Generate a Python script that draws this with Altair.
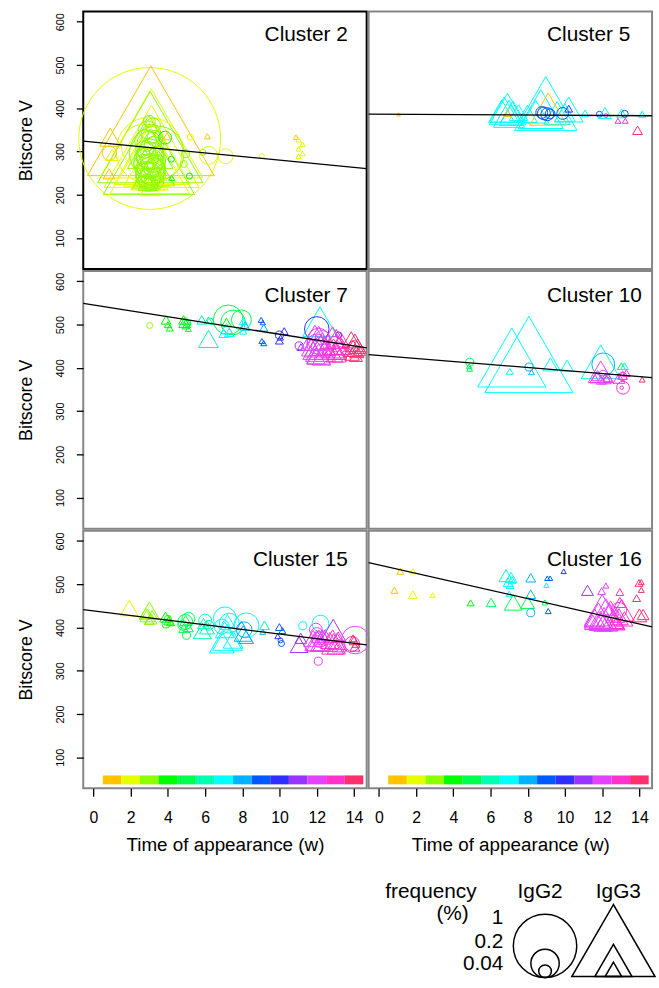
import altair as alt
import pandas as pd

FONT = "Liberation Sans, Arial, Helvetica, sans-serif"

# ---------------- data ----------------
weeks = list(range(1, 15))
week_colors = ["#FFC300", "#E5FF00", "#8CFF00", "#00FF00", "#00FF4D", "#00FFB2", "#00FFFF",
               "#00B2FF", "#0059FF", "#2E2EFF", "#9933FF", "#E640FF", "#FF33CC", "#FF2E6E"]

cluster_names = ["Cluster 2", "Cluster 5", "Cluster 7", "Cluster 10", "Cluster 15", "Cluster 16"]
# regression line per cluster: value at t = 0 and slope per week
line_intercept = [321.4, 386.1, 545.3, 428.6, 438.3, 544.7]
line_slope = [-4.16, -0.24, -6.76, -3.49, -5.36, -9.75]

x_ticks = [0, 2, 4, 6, 8, 10, 12, 14]
y_ticks = [100, 200, 300, 400, 500, 600]
legend_freq = [1, 0.2, 0.04]

# points: (time of appearance, bitscore V, frequency %, isotype 2/3, colour week)
c2_points = [
    (3.02, 330, 5.0, 2, 2), (3.08, 371, 2.32, 3, 1), (3.10, 342, 1.53, 3, 2),
    (3.05, 333, 1.60, 3, 3), (3.12, 312, 1.30, 3, 2), (2.98, 292, 1.20, 3, 3),
    (3.15, 300, 0.84, 3, 2), (3.02, 282, 0.90, 3, 2), (3.05, 306, 0.30, 3, 3),
    (3.00, 302, 1.10, 2, 2), (3.40, 296, 0.74, 2, 3), (2.70, 312, 0.49, 2, 2),
    (2.85, 265, 0.30, 3, 2), (3.25, 262, 0.25, 3, 3), (3.00, 248, 0.20, 3, 2),
    (2.80, 240, 0.10, 3, 3), (3.20, 236, 0.09, 3, 2), (3.05, 218, 0.06, 3, 2),
    (2.90, 228, 0.05, 3, 3),
    (0.90, 333, 0.063, 3, 1), (0.84, 248, 0.02, 3, 1), (1.00, 292, 0.024, 3, 2),
    (0.85, 296, 0.05, 2, 1),
    (3.00, 370, 0.035, 2, 3), (3.20, 360, 0.055, 2, 3), (2.90, 350, 0.079, 2, 3),
    (3.10, 340, 0.098, 2, 3), (3.30, 330, 0.063, 2, 3), (2.80, 325, 0.118, 2, 3),
    (3.00, 318, 0.153, 2, 3), (3.25, 312, 0.098, 2, 3), (2.75, 305, 0.079, 2, 3),
    (3.05, 300, 0.153, 2, 3), (3.40, 295, 0.055, 2, 3), (2.65, 290, 0.063, 2, 3),
    (2.90, 285, 0.118, 2, 3), (3.20, 280, 0.153, 2, 3), (3.50, 275, 0.048, 2, 3),
    (2.70, 270, 0.098, 2, 3), (3.00, 265, 0.153, 2, 3), (3.30, 260, 0.118, 2, 3),
    (2.60, 258, 0.048, 2, 3), (2.85, 252, 0.118, 2, 3), (3.15, 248, 0.14, 2, 3),
    (3.45, 245, 0.063, 2, 3), (2.75, 240, 0.079, 2, 3), (3.00, 236, 0.118, 2, 3),
    (3.25, 232, 0.098, 2, 3), (2.90, 226, 0.063, 2, 3), (3.10, 224, 0.048, 2, 3),
    (3.35, 262, 0.079, 2, 3), (3.05, 290, 0.19, 2, 3), (2.95, 275, 0.22, 2, 3),
    (3.10, 255, 0.19, 2, 3), (2.95, 245, 0.16, 2, 3), (3.15, 270, 0.12, 2, 3),
    (3.85, 332, 0.041, 2, 4), (3.95, 335, 0.009, 3, 1), (4.18, 282, 0.009, 2, 4),
    (5.16, 243, 0.009, 2, 4), (4.86, 271, 0.012, 2, 3), (4.20, 239, 0.005, 3, 4),
    (5.20, 333, 0.009, 2, 2), (5.87, 298, 0.009, 2, 3), (4.95, 295, 0.016, 2, 3),
    (6.18, 291, 0.079, 2, 2), (7.10, 289, 0.055, 2, 2), (6.12, 335, 0.005, 3, 1),
    (9.05, 289, 0.006, 2, 2), (10.88, 333, 0.004, 3, 1), (11.02, 327, 0.004, 3, 2),
    (11.23, 317, 0.004, 3, 2), (11.02, 306, 0.004, 3, 2), (11.23, 295, 0.004, 3, 2),
    (11.02, 289, 0.004, 3, 2),
]

c5_points = [
    (1.06, 386, 0.002, 3, 1), (6.91, 398, 0.19, 3, 7), (6.73, 397, 0.12, 3, 7),
    (6.99, 387, 0.14, 3, 7), (7.20, 392, 0.09, 3, 7), (6.60, 393, 0.10, 3, 7),
    (7.10, 384, 0.08, 3, 7), (7.50, 390, 0.05, 3, 7), (7.98, 387, 0.057, 3, 7),
    (6.91, 389, 0.009, 3, 1), (8.97, 411, 0.56, 3, 7), (8.70, 398, 0.29, 3, 7),
    (8.43, 392, 0.10, 3, 7), (9.58, 389, 0.10, 3, 7), (9.10, 398, 0.20, 3, 1),
    (10.20, 397, 0.12, 3, 7), (10.00, 390, 0.06, 3, 7), (8.87, 388, 0.041, 2, 9),
    (8.75, 390, 0.035, 2, 9), (9.05, 386, 0.041, 2, 9), (9.20, 387, 0.024, 2, 9),
    (9.88, 388, 0.035, 2, 9), (10.20, 399, 0.009, 3, 10), (11.08, 388, 0.009, 3, 7),
    (11.85, 386, 0.009, 2, 9), (12.15, 389, 0.024, 3, 7), (12.20, 383, 0.004, 2, 12),
    (13.04, 388, 0.014, 3, 7), (13.21, 387, 0.012, 2, 9), (12.85, 371, 0.005, 3, 13),
    (13.24, 371, 0.005, 3, 13), (13.90, 349, 0.014, 3, 14), (14.15, 386, 0.007, 3, 7),
]

c7_points = [
    (3.02, 498, 0.009, 2, 3), (3.90, 511, 0.014, 3, 4), (4.10, 492, 0.007, 3, 4),
    (4.00, 500, 0.007, 3, 4), (4.84, 511, 0.014, 3, 4), (5.00, 508, 0.009, 3, 5),
    (4.95, 497, 0.007, 3, 4), (5.10, 490, 0.005, 3, 5), (5.05, 503, 0.012, 2, 5),
    (4.90, 505, 0.02, 3, 4), (5.82, 511, 0.014, 3, 6), (6.18, 510, 0.009, 3, 6),
    (6.28, 508, 0.009, 2, 6), (6.18, 467, 0.057, 3, 6), (7.24, 511, 0.22, 2, 5),
    (7.95, 511, 0.098, 2, 5), (7.50, 505, 0.15, 2, 5), (7.15, 491, 0.02, 3, 7),
    (7.00, 480, 0.014, 3, 7), (7.30, 482, 0.014, 3, 7), (7.15, 505, 0.014, 3, 4),
    (8.05, 508, 0.009, 3, 7), (8.15, 497, 0.014, 3, 8), (8.05, 485, 0.007, 3, 7),
    (9.01, 511, 0.005, 3, 9), (9.10, 505, 0.004, 3, 9), (9.15, 457, 0.005, 3, 9),
    (9.05, 462, 0.005, 3, 9), (9.15, 493, 0.009, 3, 8), (9.99, 476, 0.016, 2, 10),
    (10.05, 470, 0.005, 3, 10), (10.25, 485, 0.009, 3, 10), (9.99, 463, 0.009, 3, 10),
    (11.05, 451, 0.016, 2, 11), (11.15, 448, 0.009, 3, 11),
    (12.17, 507, 0.17, 3, 7), (12.00, 490, 0.15, 2, 10),
    (11.90, 470, 0.12, 3, 12), (12.10, 462, 0.17, 3, 12), (12.30, 455, 0.10, 3, 12),
    (12.00, 450, 0.09, 3, 12), (12.20, 445, 0.13, 3, 12), (11.80, 440, 0.06, 3, 12),
    (12.40, 440, 0.06, 3, 12), (12.10, 432, 0.08, 3, 12), (11.95, 428, 0.05, 3, 12),
    (12.25, 425, 0.05, 3, 12), (12.60, 460, 0.04, 3, 12), (11.70, 455, 0.03, 3, 12),
    (12.10, 465, 0.13, 2, 12), (12.00, 455, 0.10, 2, 12), (12.20, 450, 0.08, 2, 12),
    (12.30, 470, 0.05, 2, 12), (13.18, 476, 0.009, 2, 10),
    (12.85, 470, 0.09, 3, 13), (13.05, 460, 0.12, 3, 13), (13.20, 450, 0.06, 3, 13),
    (12.90, 445, 0.07, 3, 13), (13.10, 438, 0.05, 3, 13), (13.30, 465, 0.04, 3, 13),
    (12.95, 430, 0.04, 3, 13), (13.20, 428, 0.03, 3, 13), (13.00, 455, 0.06, 2, 13),
    (13.15, 445, 0.04, 2, 13),
    (13.85, 465, 0.05, 3, 14), (14.05, 458, 0.06, 3, 14), (14.20, 450, 0.04, 3, 14),
    (13.95, 445, 0.05, 3, 14), (14.15, 438, 0.03, 3, 14), (13.90, 432, 0.03, 3, 14),
    (14.10, 428, 0.025, 3, 14), (14.30, 440, 0.02, 3, 14), (14.00, 450, 0.03, 2, 14),
]

c10_points = [
    (4.88, 413, 0.016, 2, 5), (4.88, 398, 0.005, 3, 5), (4.85, 404, 0.004, 3, 5),
    (7.14, 424, 0.67, 3, 7), (8.06, 431, 1.12, 3, 7), (7.04, 392, 0.007, 3, 7),
    (8.07, 402, 0.016, 2, 8), (8.20, 390, 0.005, 3, 8), (9.22, 408, 0.032, 3, 7),
    (10.11, 405, 0.024, 3, 7), (11.92, 414, 0.22, 3, 7), (12.06, 408, 0.13, 2, 8),
    (11.92, 391, 0.09, 3, 12), (11.60, 375, 0.014, 3, 12), (12.17, 375, 0.02, 3, 12),
    (11.95, 372, 0.014, 3, 12), (12.30, 378, 0.014, 3, 12), (11.75, 382, 0.02, 3, 12),
    (12.05, 385, 0.016, 2, 12), (12.25, 372, 0.009, 2, 12), (13.12, 354, 0.041, 2, 13),
    (13.05, 354, 0.003, 2, 13), (13.10, 380, 0.016, 2, 13), (13.03, 404, 0.009, 3, 5),
    (13.20, 404, 0.009, 3, 7), (13.10, 383, 0.014, 3, 12), (13.30, 388, 0.009, 3, 13),
    (12.90, 376, 0.02, 3, 13), (14.15, 373, 0.005, 3, 14),
]

c15_points = [
    (1.92, 445, 0.046, 3, 2), (3.00, 439, 0.057, 3, 3), (2.90, 428, 0.032, 3, 3),
    (3.10, 420, 0.02, 3, 3), (3.00, 417, 0.014, 3, 3), (2.80, 432, 0.02, 3, 3),
    (3.15, 430, 0.014, 3, 3), (3.87, 424, 0.02, 3, 4), (4.05, 416, 0.014, 3, 4),
    (4.15, 412, 0.009, 3, 4), (3.90, 408, 0.016, 2, 4), (4.00, 420, 0.012, 2, 4),
    (4.93, 413, 0.055, 2, 5), (5.10, 420, 0.041, 2, 5), (4.80, 405, 0.024, 2, 5),
    (5.00, 382, 0.016, 2, 5), (4.95, 416, 0.02, 3, 5), (4.85, 398, 0.014, 3, 5),
    (5.10, 400, 0.014, 3, 5), (5.91, 409, 0.02, 3, 6), (6.10, 400, 0.032, 3, 6),
    (5.85, 392, 0.046, 3, 6), (6.00, 416, 0.041, 2, 6), (6.20, 405, 0.024, 2, 6),
    (7.06, 421, 0.13, 2, 7), (7.30, 410, 0.098, 2, 7), (6.90, 402, 0.055, 2, 7),
    (7.20, 377, 0.128, 3, 7), (6.90, 366, 0.089, 3, 7), (7.50, 372, 0.057, 3, 7),
    (7.20, 415, 0.032, 3, 7), (7.05, 395, 0.05, 3, 7), (8.22, 405, 0.153, 2, 7),
    (8.04, 386, 0.046, 3, 8), (8.20, 378, 0.032, 3, 8), (7.95, 405, 0.014, 3, 8),
    (8.10, 395, 0.06, 2, 8), (9.19, 405, 0.014, 3, 6), (9.10, 390, 0.005, 3, 8),
    (9.99, 401, 0.009, 3, 9), (10.15, 393, 0.007, 3, 9), (10.10, 363, 0.009, 2, 9),
    (10.05, 370, 0.006, 2, 9), (9.90, 380, 0.005, 3, 10), (11.14, 375, 0.02, 3, 11),
    (11.05, 360, 0.046, 3, 11), (11.25, 404, 0.016, 2, 7), (12.20, 409, 0.07, 2, 7),
    (11.95, 395, 0.041, 2, 12), (11.80, 375, 0.05, 3, 12), (12.00, 370, 0.08, 3, 12),
    (12.20, 365, 0.06, 3, 12), (11.90, 362, 0.04, 3, 12), (12.10, 380, 0.03, 3, 12),
    (12.30, 378, 0.04, 3, 12), (12.45, 370, 0.09, 3, 12), (12.00, 385, 0.04, 2, 12),
    (12.15, 372, 0.06, 2, 12), (12.08, 322, 0.016, 2, 12), (12.88, 394, 0.089, 3, 11),
    (12.70, 370, 0.05, 3, 13), (12.90, 362, 0.08, 3, 13), (13.10, 368, 0.05, 3, 13),
    (13.00, 355, 0.04, 3, 13), (13.20, 358, 0.03, 3, 13), (12.85, 380, 0.03, 3, 13),
    (13.15, 378, 0.02, 3, 13), (14.07, 371, 0.19, 2, 12), (13.90, 362, 0.055, 2, 13),
    (14.00, 370, 0.014, 3, 14), (14.10, 362, 0.009, 3, 14), (13.95, 375, 0.009, 3, 14),
    (14.05, 355, 0.014, 3, 14),
]

c16_points = [
    (1.15, 530, 0.007, 3, 1), (0.83, 486, 0.007, 3, 1), (1.83, 530, 0.005, 3, 2),
    (1.83, 476, 0.011, 3, 2), (2.89, 475, 0.004, 3, 2), (4.93, 457, 0.007, 3, 4),
    (6.03, 458, 0.014, 3, 5), (7.22, 458, 0.046, 3, 5), (7.99, 458, 0.028, 3, 5),
    (6.83, 520, 0.028, 3, 7), (7.10, 516, 0.02, 3, 7), (6.95, 505, 0.014, 3, 7),
    (7.05, 498, 0.009, 3, 7), (7.15, 510, 0.009, 3, 7), (7.00, 478, 0.005, 3, 7),
    (8.16, 515, 0.014, 3, 8), (8.16, 477, 0.014, 3, 8), (8.16, 434, 0.016, 2, 8),
    (8.92, 458, 0.005, 3, 5), (9.05, 514, 0.004, 3, 9), (9.20, 514, 0.004, 3, 9),
    (9.10, 438, 0.005, 3, 9), (9.00, 498, 0.004, 3, 7), (9.93, 530, 0.004, 3, 10),
    (11.21, 486, 0.02, 3, 11), (11.97, 484, 0.009, 3, 12), (12.20, 497, 0.005, 3, 12),
    (12.00, 440, 0.19, 3, 12), (12.20, 432, 0.17, 3, 12), (11.80, 428, 0.12, 3, 12),
    (12.40, 425, 0.13, 3, 12), (12.10, 420, 0.10, 3, 12), (11.60, 422, 0.06, 3, 12),
    (12.60, 418, 0.08, 3, 12), (11.90, 415, 0.07, 3, 12), (12.30, 412, 0.06, 3, 12),
    (12.05, 410, 0.05, 3, 12), (11.50, 412, 0.04, 3, 12), (12.70, 430, 0.05, 3, 12),
    (12.45, 445, 0.04, 3, 12), (12.90, 440, 0.06, 2, 12),
    (12.95, 482, 0.009, 3, 13), (12.95, 458, 0.02, 3, 13), (13.05, 440, 0.089, 3, 13),
    (12.90, 425, 0.05, 3, 13), (13.20, 420, 0.04, 3, 13), (12.80, 412, 0.03, 3, 13),
    (13.98, 503, 0.009, 3, 14), (14.10, 487, 0.005, 3, 14), (13.85, 468, 0.009, 3, 14),
    (14.00, 428, 0.032, 3, 14), (14.10, 505, 0.005, 3, 14), (14.20, 430, 0.02, 3, 14),
]

all_points = [c2_points, c5_points, c7_points, c10_points, c15_points, c16_points]

# ---------------- chart ----------------
W, H = 286, 260
XDOM = [-0.55, 14.68]
YDOM = [28, 624]
SIZE_EXPR = "datum.freq * (datum.iso == 'IgG2' ? 4096 : 7056)"

xs = alt.Scale(domain=XDOM, nice=False, zero=False)
ys = alt.Scale(domain=YDOM, nice=False, zero=False)
cscale = alt.Scale(domain=weeks, range=week_colors)
shape_scale = alt.Scale(domain=["IgG2", "IgG3"], range=["circle", "triangle-up"])

x_axis = alt.Axis(values=x_ticks, title="Time of appearance (w)", tickSize=8, tickWidth=1.3,
                  tickColor="black", labelPadding=13, labelFontSize=16, labelFont=FONT,
                  labelColor="black", labelFlush=False, labelOverlap=False,
                  titleFont=FONT, titleFontSize=19, titleFontWeight="normal", titleColor="black",
                  titleY=57, titleBaseline="middle", domain=False, grid=False)
y_axis = alt.Axis(values=y_ticks, title="Bitscore V", tickSize=7, tickWidth=1.3, tickColor="black",
                  labelAngle=270, labelAlign="center", labelBaseline="middle", labelPadding=16,
                  labelFontSize=11, labelFont=FONT, labelColor="black", labelFlush=False,
                  labelOverlap=False, titleFont=FONT, titleFontSize=18, titleFontWeight="normal",
                  titleColor="black", titleAngle=270, titleX=-57, titleY=H / 2,
                  titleAlign="center", titleBaseline="middle", domain=False, grid=False)

label_x = {0: 267, 1: 180}
label_align = {0: "right", 1: "left"}
label_y = [30, 31, 36]


def panel(idx, legend=False):
    row, col = divmod(idx, 2)
    left = col == 0
    bottom = row == 2
    xa = x_axis if bottom else None
    ya = y_axis if left else None
    df = pd.DataFrame(all_points[idx], columns=["time", "score", "freq", "iso", "week"])
    df["iso"] = df["iso"].map({2: "IgG2", 3: "IgG3"})

    pts = alt.Chart(df).transform_calculate(sz=SIZE_EXPR).mark_point(
        filled=False, strokeWidth=1, opacity=1
    ).encode(
        x=alt.X("time:Q", scale=xs, axis=xa),
        y=alt.Y("score:Q", scale=ys, axis=ya),
        color=alt.Color("week:O", scale=cscale, legend=None),
        shape=alt.Shape("iso:N", scale=shape_scale, legend=None),
        size=alt.Size("sz:Q", scale=None),
    )

    ldf = pd.DataFrame({"time": XDOM})
    ldf["score"] = line_intercept[idx] + line_slope[idx] * ldf["time"]
    line = alt.Chart(ldf).mark_line(color="black", strokeWidth=1.3).encode(
        x=alt.X("time:Q", scale=xs, axis=xa),
        y=alt.Y("score:Q", scale=ys, axis=ya),
    )

    lab = alt.Chart(pd.DataFrame({"label": [cluster_names[idx]]})).mark_text(
        align=label_align[col], baseline="alphabetic", font=FONT, fontSize=21, color="black"
    ).encode(x=alt.value(label_x[col]), y=alt.value(label_y[row]), text="label:N")

    layers = []
    if bottom:
        cb = alt.Chart(pd.DataFrame({"week": weeks})).transform_calculate(
            lo="datum.week - 0.5", hi="datum.week + 0.5"
        ).mark_rect().encode(
            x=alt.X("lo:Q", scale=xs, axis=xa),
            x2="hi:Q",
            y=alt.value(247),
            y2=alt.value(256),
            color=alt.Color("week:O", scale=cscale, legend=None),
        )
        layers.append(cb)
    layers += [pts, line, lab]

    if legend:
        leg_df = pd.DataFrame({"freq": legend_freq * 2,
                               "iso": ["IgG2"] * len(legend_freq) + ["IgG3"] * len(legend_freq)})
        shapes = alt.Chart(leg_df).transform_calculate(
            sz=SIZE_EXPR,
            lx="datum.iso == 'IgG2' ? 178 : 247",
            ly="datum.iso == 'IgG2' ? 451 - sqrt(datum.sz) / 2 : 450 - 0.433 * sqrt(datum.sz)",
        ).mark_point(filled=False, strokeWidth=1.5, opacity=1, color="black").encode(
            x=alt.X("lx:Q", scale=None),
            y=alt.Y("ly:Q", scale=None),
            shape=alt.Shape("iso:N", scale=shape_scale, legend=None),
            size=alt.Size("sz:Q", scale=None),
        )
        layers.append(shapes)
        texts = [("frequency", 109, 371, "right"), ("(%)", 101, 393, "right"),
                 ("IgG2", 173, 371, "center"), ("IgG3", 252, 371, "center")]
        ys_num = [397, 421, 443]
        for v, yy in zip(legend_freq, ys_num):
            texts.append((f"{v:g}", 136, yy, "right"))
        for t, tx, ty, al in texts:
            layers.append(
                alt.Chart(pd.DataFrame({"t": [t]})).mark_text(
                    align=al, baseline="alphabetic", font=FONT, fontSize=21, color="black"
                ).encode(x=alt.value(tx), y=alt.value(ty), text="t:N")
            )

    ch = alt.layer(*layers).properties(width=W, height=H)
    if idx == 0:
        ch = ch.properties(view=alt.ViewBackground(stroke="black", strokeWidth=2))
    return ch


panels = [panel(i, legend=(i == 5)) for i in range(6)]

chart = alt.concat(*panels, columns=2, spacing=2, bounds="flush").properties(
    padding={"left": 17, "top": 6, "right": 0, "bottom": 0}
).configure_view(stroke="#858585", strokeWidth=2).configure_axis(grid=False)

chart.save("out.html", embed_options={"renderer": "svg", "actions": False})
